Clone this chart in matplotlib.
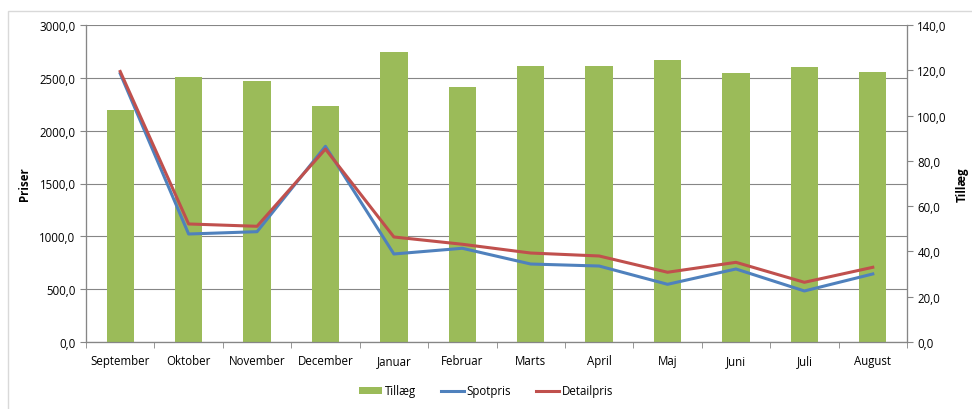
import matplotlib.pyplot as plt
from matplotlib.patches import Rectangle

# data
months = ['September', 'Oktober', 'November', 'December', 'Januar', 'Februar',
          'Marts', 'April', 'Maj', 'Juni', 'Juli', 'August']
tillaeg = [102.5, 116.9, 115.3, 104.1, 128.1, 112.6, 121.8, 121.8, 124.4, 118.7, 121.3, 119.1]
spotpris = [2540, 1022, 1044, 1852, 833, 887, 738, 719, 546, 691, 483, 644]
detailpris = [2560, 1117, 1095, 1826, 994, 925, 842, 814, 660, 754, 565, 707]

green = '#9BBB59'
blue = '#4F81BD'
red = '#C0504D'
grey = '#868686'

plt.rcParams['font.family'] = ['Open Sans', 'DejaVu Sans']
plt.rcParams['font.size'] = 8.3

fig = plt.figure(figsize=(9.72, 4.10), dpi=100)
# light outer chart border
fig.patches.append(Rectangle((8 / 972, -0.1), 1.2, 1 - 12 / 410 + 0.1, transform=fig.transFigure,
                             fill=False, edgecolor='#D9D9D9', linewidth=1))

rect = [86 / 972, 1 - 343 / 410, (907 - 86) / 972, (343 - 26) / 410]
ax = fig.add_axes(rect)      # left scale + gridlines
ax2 = ax.twinx()             # right scale, bars
ax3 = ax.twinx()             # lines on left scale, on top

x = list(range(len(months)))
left_ticks = list(range(0, 3001, 500))
right_ticks = list(range(0, 141, 20))

ax.set_ylim(0, 3000)
ax.set_yticks(left_ticks)
ax.set_yticklabels([f'{v:.1f}'.replace('.', ',') for v in left_ticks])
ax.yaxis.grid(True, color=grey, linewidth=0.8)
ax.set_ylabel('Priser', fontweight='bold', labelpad=6)
ax.set_xlim(-0.5, len(months) - 0.5)
ax.set_xticks(x)
ax.set_xticklabels(months)
ax.set_xticks([i - 0.5 for i in range(len(months) + 1)], minor=True)
ax.tick_params(axis='x', which='major', length=0, pad=9)
ax.tick_params(axis='x', which='minor', length=4, color=grey)
ax.tick_params(axis='y', length=4, color=grey)

ax2.bar(x, tillaeg, width=0.4, color=green, label='Tillæg')
ax2.set_ylim(0, 140)
ax2.set_yticks(right_ticks)
ax2.set_yticklabels([f'{v:.1f}'.replace('.', ',') for v in right_ticks])
ax2.set_ylabel('Tillæg', fontweight='bold', rotation=90, labelpad=6)
ax2.tick_params(axis='y', length=4, color=grey)

ax3.plot(x, spotpris, color=blue, linewidth=2.2, label='Spotpris')
ax3.plot(x, detailpris, color=red, linewidth=2.2, label='Detailpris')
ax3.set_ylim(0, 3000)
ax3.set_yticks([])

ax.set_zorder(1)
ax2.set_zorder(2)
ax3.set_zorder(3)
ax2.patch.set_visible(False)
ax3.patch.set_visible(False)

for a in (ax, ax2, ax3):
    a.spines['top'].set_visible(False)
    a.spines['left'].set_color(grey)
    a.spines['right'].set_color(grey)
    a.spines['bottom'].set_color(grey)

handles = ax2.get_legend_handles_labels()[0] + ax3.get_legend_handles_labels()[0]
labels = ['Tillæg', 'Spotpris', 'Detailpris']
fig.legend(handles, labels, loc='center', bbox_to_anchor=(0.5, 1 - 392 / 410), ncol=3,
           frameon=False, handlelength=2.0, handleheight=0.6, columnspacing=2.2, handletextpad=0.2)

fig.savefig('out.png', dpi=100)
